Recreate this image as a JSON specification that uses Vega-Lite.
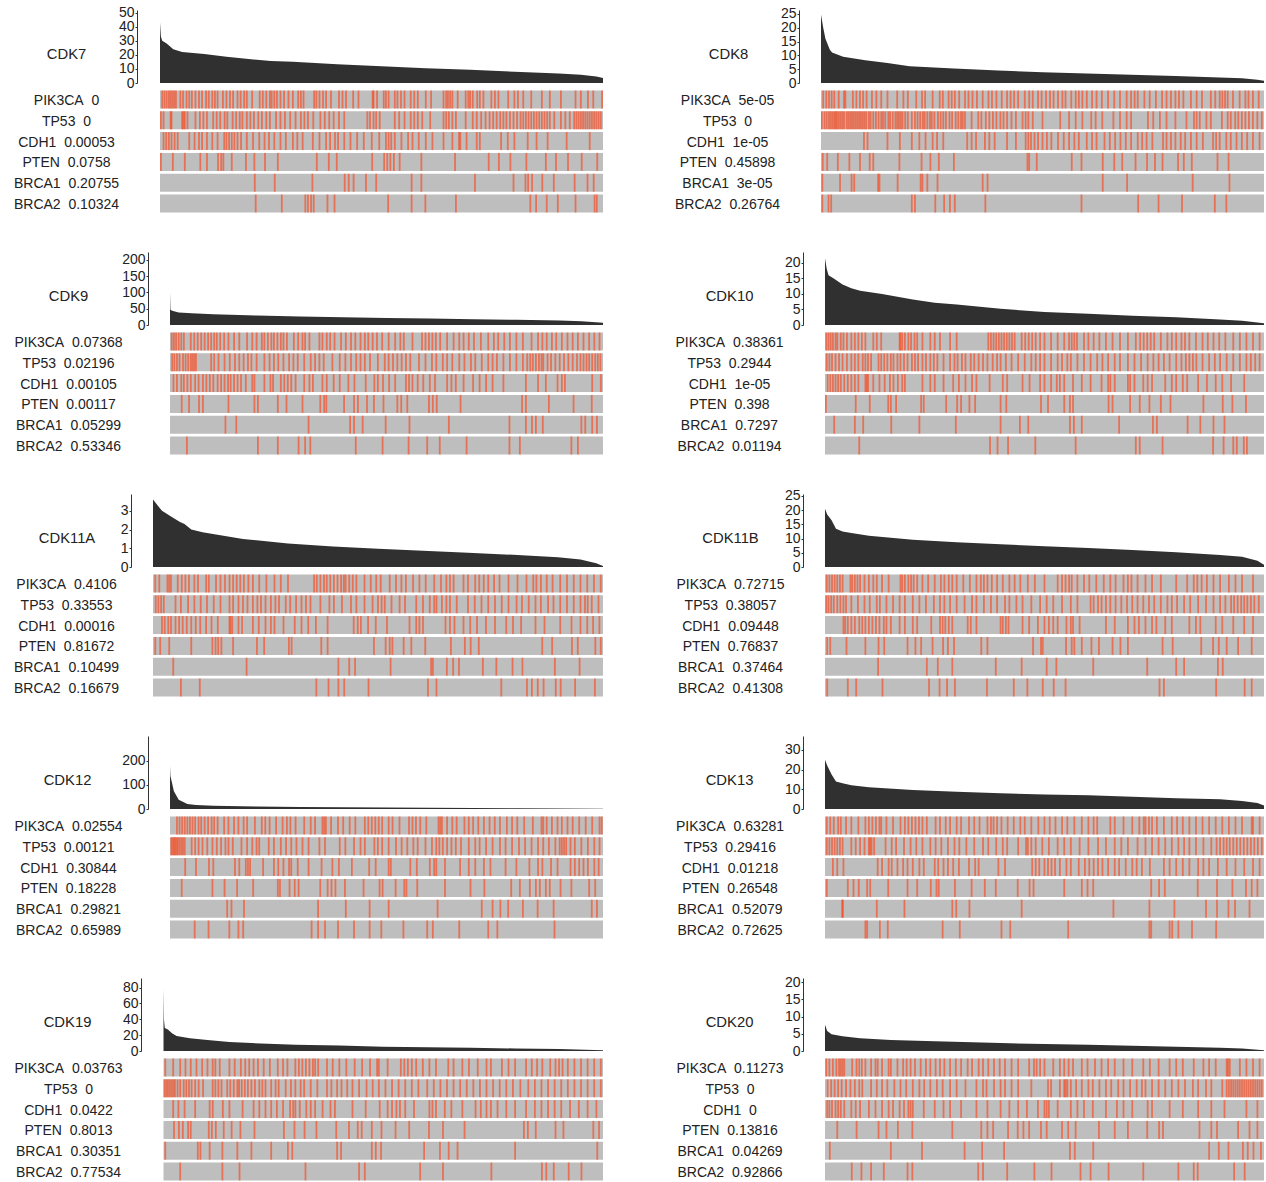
{"$schema":"https://vega.github.io/schema/vega-lite/v6.json","background":"white","padding":{"left":13,"top":4,"right":0,"bottom":0},"columns":2,"spacing":{"row":33,"column":70},
"config":{"font":"Liberation Sans","view":{"stroke":null},"area":{"color":"#303030"},"bar":{"color":"#bebebe"},"tick":{"color":"#ff4010","thickness":1.8,"bandSize":18,"opacity":0.6},"axis":{"labelColor":"#222","titleColor":"#222","domainColor":"#333","tickColor":"#333","grid":false,"labelOverlap":false,"labelFontSize":14,"titleFontSize":14.8,"titleFontWeight":"normal","labelFont":"Liberation Sans","titleFont":"Liberation Sans"},"axisX":{"orient":"top","labels":false,"ticks":false,"domain":false,"title":null,"minExtent":6,"maxExtent":6}},
"datasets":{
"a1":[{"x":0,"y":43},{"x":2,"y":33},{"x":5,"y":30},{"x":15,"y":28},{"x":30,"y":24},{"x":50,"y":22},{"x":100,"y":20.5},{"x":150,"y":18.7},{"x":200,"y":17},{"x":250,"y":15.7},{"x":300,"y":15},{"x":400,"y":13.3},{"x":500,"y":11.8},{"x":600,"y":10.5},{"x":700,"y":9.4},{"x":800,"y":8},{"x":900,"y":6.7},{"x":950,"y":5.8},{"x":985,"y":4.7},{"x":1000,"y":3.5}],
"a2":[{"x":0,"y":24.8},{"x":5,"y":20},{"x":10,"y":16},{"x":20,"y":12},{"x":25,"y":11},{"x":50,"y":9.5},{"x":100,"y":8.2},{"x":150,"y":7.2},{"x":200,"y":6.1},{"x":300,"y":5.2},{"x":400,"y":4.5},{"x":500,"y":3.9},{"x":600,"y":3.4},{"x":700,"y":3},{"x":800,"y":2.5},{"x":900,"y":2},{"x":950,"y":1.7},{"x":985,"y":1.2},{"x":1000,"y":0.8}],
"a3":[{"x":0,"y":100},{"x":1,"y":47},{"x":5,"y":44},{"x":20,"y":38},{"x":50,"y":36},{"x":100,"y":33},{"x":200,"y":29},{"x":300,"y":26},{"x":400,"y":23.5},{"x":500,"y":21.5},{"x":600,"y":20},{"x":700,"y":17.5},{"x":800,"y":16},{"x":900,"y":13.5},{"x":950,"y":11.5},{"x":1000,"y":7}],
"a4":[{"x":0,"y":21.5},{"x":4,"y":18},{"x":8,"y":16},{"x":20,"y":15},{"x":40,"y":13},{"x":60,"y":11.8},{"x":80,"y":11},{"x":130,"y":10},{"x":200,"y":8.2},{"x":250,"y":7.2},{"x":300,"y":6.6},{"x":400,"y":5.2},{"x":500,"y":4.2},{"x":600,"y":3.6},{"x":700,"y":3},{"x":800,"y":2.5},{"x":900,"y":1.8},{"x":950,"y":1.4},{"x":1000,"y":0.6}],
"a5":[{"x":0,"y":3.6},{"x":10,"y":3.3},{"x":20,"y":3},{"x":40,"y":2.7},{"x":60,"y":2.4},{"x":70,"y":2.3},{"x":85,"y":2},{"x":110,"y":1.85},{"x":150,"y":1.7},{"x":200,"y":1.5},{"x":300,"y":1.25},{"x":400,"y":1.1},{"x":500,"y":0.98},{"x":600,"y":0.87},{"x":700,"y":0.76},{"x":800,"y":0.65},{"x":900,"y":0.52},{"x":950,"y":0.4},{"x":985,"y":0.2},{"x":1000,"y":0.05}],
"a6":[{"x":0,"y":20.5},{"x":5,"y":18.5},{"x":15,"y":16.5},{"x":25,"y":13.5},{"x":40,"y":12.5},{"x":60,"y":12},{"x":100,"y":11},{"x":200,"y":9.6},{"x":300,"y":8.7},{"x":400,"y":8},{"x":500,"y":7.3},{"x":600,"y":6.7},{"x":700,"y":6},{"x":800,"y":5.2},{"x":900,"y":4.2},{"x":950,"y":3.6},{"x":985,"y":2.2},{"x":1000,"y":0.8}],
"a7":[{"x":0,"y":179},{"x":1,"y":137},{"x":9,"y":74},{"x":20,"y":39},{"x":40,"y":21},{"x":60,"y":17},{"x":100,"y":14},{"x":200,"y":10.5},{"x":300,"y":8},{"x":400,"y":7},{"x":500,"y":6},{"x":600,"y":5},{"x":700,"y":4},{"x":800,"y":3},{"x":900,"y":2.5},{"x":1000,"y":1}],
"a8":[{"x":0,"y":25},{"x":5,"y":22},{"x":15,"y":17.5},{"x":25,"y":14},{"x":40,"y":13},{"x":60,"y":12},{"x":100,"y":11},{"x":200,"y":9.6},{"x":300,"y":8.8},{"x":400,"y":8},{"x":500,"y":7.4},{"x":600,"y":7},{"x":700,"y":6.2},{"x":800,"y":5.5},{"x":900,"y":5},{"x":950,"y":4},{"x":985,"y":3},{"x":1000,"y":1.8}],
"a9":[{"x":0,"y":79},{"x":1,"y":40},{"x":3,"y":29},{"x":10,"y":27},{"x":20,"y":22},{"x":30,"y":19},{"x":60,"y":16},{"x":100,"y":14},{"x":150,"y":11.5},{"x":200,"y":10},{"x":300,"y":8},{"x":400,"y":7},{"x":500,"y":5.5},{"x":600,"y":4.8},{"x":700,"y":4},{"x":800,"y":3.2},{"x":900,"y":2.5},{"x":1000,"y":1}],
"a10":[{"x":0,"y":7.6},{"x":5,"y":5.8},{"x":15,"y":4.9},{"x":40,"y":4.3},{"x":80,"y":3.7},{"x":150,"y":3.2},{"x":250,"y":2.8},{"x":400,"y":2.3},{"x":500,"y":2},{"x":600,"y":1.8},{"x":700,"y":1.5},{"x":800,"y":1.25},{"x":900,"y":0.95},{"x":950,"y":0.7},{"x":1000,"y":0.2}],
"p1":[5,10,15,20,24,28,32,36,46,52,60,66,72,80,88,95,104,110,118,124,130,142,150,158,165,175,182,190,196,208,225,232,240,248,252,258,264,272,280,290,300,312,318,324,348,353,360,368,375,386,404,412,420,436,448,480,482,490,505,510,516,530,536,544,552,566,574,582,600,612,640,646,650,655,660,672,690,696,700,706,716,722,730,748,756,764,786,800,808,820,838,862,880,905,938,950,966,978,998],
"t1":[2,8,24,26,50,53,56,62,80,90,98,106,120,128,136,146,152,164,172,180,186,196,204,212,222,230,240,248,262,272,282,294,306,318,326,334,346,362,372,382,392,404,416,468,474,482,488,496,530,540,552,566,574,582,592,610,640,646,652,660,668,690,706,715,725,735,744,752,760,768,775,782,790,798,806,814,820,826,832,838,844,850,856,862,868,874,880,890,905,915,925,935,940,945,950,955,960,965,970,975,980,985,990,995],
"c1":[8,14,20,26,33,40,66,78,88,95,106,118,130,145,150,156,162,168,175,183,196,210,224,236,246,258,272,284,300,310,322,345,360,375,384,395,402,416,430,445,460,478,495,510,516,522,530,545,560,570,584,600,615,640,660,675,678,692,715,722,770,785,800,830,850,875,918,970],
"e1":[2,29,56,91,106,131,138,143,162,194,213,237,266,354,381,399,479,506,513,520,528,541,590,666,742,765,791,827,871,894,921,952,987],
"b1":[214,259,344,417,426,437,465,488,568,590,711,798,825,831,840,863,889,936,965,979],
"r1":[216,275,328,334,341,347,378,394,515,568,599,668,836,849,873,898,938,981,986],
"p2":[5,12,18,24,30,40,52,55,72,80,88,95,103,115,125,136,150,172,186,196,215,228,235,252,268,275,288,295,302,312,325,333,342,352,365,378,386,396,408,420,428,436,445,460,470,478,490,498,508,517,525,535,545,552,565,575,582,590,600,612,622,634,648,662,675,690,700,708,715,730,742,756,770,780,790,800,808,818,835,848,860,880,890,900,906,912,918,930,945,958,965,975,988],
"t2":[2,8,13,18,22,26,30,33,36,40,44,48,52,58,62,66,70,74,78,82,86,90,94,98,102,108,112,118,124,130,136,140,145,152,156,162,168,172,176,180,184,190,196,205,212,218,224,230,234,240,246,250,256,264,270,276,282,290,296,304,310,316,320,325,340,355,362,372,380,388,396,405,412,420,430,440,455,462,468,478,500,540,560,575,590,610,620,635,660,675,690,700,738,750,765,780,800,825,842,848,855,870,880,905,918,925,935,942,950,958,966,975,985,995],
"c2":[97,105,150,178,205,222,236,252,262,276,330,340,350,370,380,392,420,440,462,468,474,482,490,500,510,520,535,548,560,572,582,600,612,622,640,652,664,676,688,700,715,725,735,748,772,780,790,800,812,822,835,848,862,885,892,900,915,925,938,950,962,975,990],
"e2":[4,14,38,64,88,110,118,177,227,247,266,300,466,470,487,566,588,636,662,680,710,736,754,771,806,819,837,895,920],
"b2":[3,43,69,75,129,132,173,225,229,240,263,365,376,636,691,839,922],
"r2":[3,17,23,205,212,258,278,291,302,371,588,716,762,815,889,915],
"p3":[4,9,14,20,26,32,48,56,64,72,80,88,95,102,108,116,125,135,148,160,178,190,200,212,218,226,234,240,248,256,262,270,286,296,306,312,322,345,352,362,370,380,395,406,418,428,440,450,458,468,478,490,505,520,532,540,560,582,590,598,606,614,624,640,655,668,678,690,702,718,735,748,758,772,785,800,815,835,850,860,870,882,892,905,918,930,942,955,968,980,992],
"t3":[5,10,16,22,30,36,42,48,52,56,60,95,102,112,126,138,150,160,170,180,188,200,218,230,240,250,262,275,285,295,310,325,335,345,355,375,392,405,418,430,440,450,462,480,496,505,515,525,535,545,555,575,590,605,615,630,640,652,668,680,695,705,720,735,745,755,770,785,800,815,825,832,838,845,852,858,862,872,880,890,900,910,920,930,940,948,955,962,968,975,982,988,994],
"c3":[8,16,26,32,40,48,58,66,76,84,92,100,110,118,126,134,140,148,156,164,175,190,195,218,232,238,256,264,272,280,290,310,322,330,352,362,378,392,412,426,452,472,480,492,506,520,545,552,560,572,585,600,612,640,650,660,678,700,715,730,745,770,822,850,868,895,905,912,975,995],
"e3":[27,44,67,76,135,195,203,249,269,306,347,356,361,402,425,434,455,471,493,525,534,548,598,607,616,671,813,822,875,932,974],
"b3":[128,153,320,416,425,445,498,553,644,784,822,836,845,861,950,959,975,986],
"r3":[39,203,249,297,312,324,429,491,551,594,623,685,784,808,927,942],
"p4":[3,8,13,18,24,28,36,42,50,60,68,76,84,92,110,118,128,170,172,176,182,190,196,204,210,222,240,250,262,285,300,372,378,384,390,396,402,408,414,420,426,432,448,456,464,472,480,490,500,515,530,545,556,562,568,574,590,600,612,625,640,655,672,690,708,718,726,734,742,750,765,780,790,800,812,820,830,845,860,872,885,898,912,930,945,960,975,990],
"t4":[4,10,16,24,32,40,50,60,68,76,86,92,98,105,122,128,135,142,150,156,165,172,180,188,198,205,212,222,230,240,248,256,270,285,295,302,312,320,332,340,350,360,370,382,392,400,412,425,440,455,470,480,490,500,515,530,540,552,560,575,590,605,620,632,645,660,672,690,705,720,735,748,760,772,785,800,812,822,830,838,846,860,875,888,900,915,930,945,960,970,980,990],
"c4":[6,12,18,24,30,36,44,52,60,68,76,92,95,98,110,124,136,148,156,166,176,182,222,240,250,270,292,305,320,335,345,375,405,415,450,466,490,500,515,528,535,545,565,585,605,630,645,650,660,690,695,705,725,735,745,775,790,800,815,825,850,870,890,905,925,955],
"e4":[2,70,102,144,150,162,219,225,276,301,310,329,342,400,413,492,508,545,558,565,646,655,695,717,739,765,787,862,906,928,959],
"b4":[21,68,87,151,215,298,400,444,463,558,567,585,670,747,756,826,855,885,910],
"r4":[78,376,393,417,479,571,708,717,769,884,908,930,938,954,961],
"p5":[5,14,32,36,40,55,64,72,80,92,100,118,124,140,150,160,170,178,186,194,202,212,222,236,252,270,284,300,358,364,372,380,386,394,402,410,418,424,428,436,444,452,470,484,496,506,526,540,552,562,578,592,606,625,640,652,660,668,690,700,716,725,735,745,758,770,790,810,830,845,852,862,875,888,905,920,935,950,965,980,995],
"t5":[6,12,18,24,50,62,78,92,106,120,135,150,170,178,190,200,210,222,232,240,250,262,272,280,295,305,318,330,340,350,372,392,402,420,440,452,470,488,500,508,515,530,548,560,585,600,615,625,630,642,652,660,675,700,715,730,745,760,775,790,808,820,835,850,862,878,890,905,920,935,950,960,966,975,990],
"c5":[20,26,34,40,50,58,66,75,85,95,105,118,130,144,170,172,176,190,198,222,235,250,262,270,290,315,330,345,362,388,446,455,462,478,495,520,570,585,592,600,650,660,670,690,705,720,740,760,785,800,818,850,870,905,930,950,965,978,992],
"e5":[5,16,36,85,132,139,145,152,178,231,247,302,308,374,388,491,517,526,532,557,574,605,662,693,706,724,865,887,931,944,983,995],
"b5":[45,208,412,436,449,528,618,622,653,667,680,733,763,799,821,893,948],
"r5":[62,104,363,390,412,425,479,611,630,774,831,842,855,868,895,906,938,982],
"p6":[4,10,16,22,28,34,40,58,62,68,74,80,90,100,110,118,130,145,172,176,182,190,196,202,210,222,235,250,264,272,282,290,300,315,330,345,355,362,370,380,392,405,420,432,445,462,478,500,530,540,548,556,562,575,590,602,618,635,650,662,680,690,698,712,730,745,765,800,825,840,848,858,870,885,900,920,935,950,975],
"t6":[3,8,14,20,28,35,42,48,60,75,90,102,118,125,140,155,170,182,200,215,230,248,262,272,285,300,318,335,345,362,378,392,410,420,436,450,470,490,505,520,540,560,575,605,612,622,630,640,650,662,675,688,700,712,725,738,750,765,780,790,802,818,832,850,868,885,900,912,925,932,940,948,955,962,970,978,988],
"c6":[42,46,52,60,68,78,85,92,100,108,116,124,134,140,150,170,182,200,210,242,262,268,274,282,290,325,332,345,400,405,412,418,450,465,485,500,510,520,530,550,560,565,580,640,660,690,705,715,730,745,755,775,790,830,845,855,890,905,930,955,975],
"e6":[5,12,49,92,122,135,188,206,219,245,269,280,294,356,370,474,492,496,549,562,568,585,607,624,655,673,690,769,792,857,884,897,915,941,972],
"b6":[121,232,257,290,389,448,505,527,611,734,800,818,895,906],
"r6":[5,52,71,131,237,261,278,296,369,430,461,496,521,548,762,772,891,956,972],
"p7":[16,22,28,34,40,46,52,58,66,72,80,88,96,102,110,125,135,148,158,170,178,196,212,220,230,245,260,270,278,290,310,325,335,352,356,360,372,388,400,415,428,450,458,466,474,482,490,505,514,530,552,560,568,578,592,620,624,628,640,652,662,680,690,700,712,725,738,750,762,778,790,802,818,838,858,862,870,882,895,905,918,930,945,960,975,992,997],
"t7":[3,6,9,12,15,18,22,26,30,34,50,58,66,75,86,98,108,118,128,135,145,165,178,190,200,206,228,240,256,268,280,292,306,320,345,358,392,405,425,440,450,472,480,490,505,522,535,548,562,572,590,605,615,622,630,640,650,660,672,690,705,715,730,745,762,775,790,806,820,835,850,862,875,890,900,905,910,915,925,935,950,965,980,992],
"c7":[35,60,90,100,150,160,175,180,185,215,240,250,262,275,280,295,320,350,375,390,420,460,475,505,510,555,570,600,610,615,635,670,690,705,725,740,775,800,830,850,860,880,895,925,935,945,955,965,980,990],
"e7":[27,98,126,155,192,249,254,276,288,297,347,364,373,382,404,447,484,491,521,541,546,571,635,694,726,788,808,831,845,854,868,877,902,927,968,982],
"b7":[132,142,171,342,406,461,505,618,720,745,763,781,815,849,886,974,986],
"r7":[57,89,137,158,169,327,342,358,388,425,461,488,539,594,607,668,735,756,888],
"p8":[4,12,20,30,36,48,60,76,92,100,108,116,124,128,140,155,172,182,190,198,206,214,222,232,252,262,275,285,300,310,328,340,352,370,378,384,392,402,416,430,445,455,470,486,500,512,525,540,552,568,585,600,612,620,650,660,680,700,716,726,730,738,745,756,772,790,802,815,830,845,860,875,890,905,920,935,950,972,975,990],
"t8":[4,10,16,22,28,34,40,60,70,80,90,100,103,106,112,138,152,162,180,195,208,222,240,252,265,280,295,306,322,340,360,372,390,405,415,440,458,462,470,480,495,510,530,545,560,580,600,622,640,660,675,690,712,730,745,760,775,790,805,818,830,845,862,880,892,900,908,915,922,930,938,946,954,962,970,978,986,995],
"c8":[18,28,42,120,130,145,152,165,178,188,200,215,225,250,258,270,280,292,305,328,342,350,395,410,472,480,488,500,508,516,524,535,550,560,578,592,602,612,622,632,645,660,670,685,700,710,722,740,772,785,800,815,830,850,862,875,895,915,935,955,975,990],
"e8":[4,52,65,77,96,103,144,188,210,241,254,259,296,334,364,389,439,466,475,545,585,598,611,743,761,774,849,893,928,959,972,985],
"b8":[39,41,118,181,290,299,329,448,657,739,796,868,893,919,934,967],
"r8":[92,96,125,143,268,307,402,422,554,739,743,785,791,805,836,891],
"p9":[4,22,38,50,62,75,88,100,112,118,128,150,162,176,186,195,205,215,228,242,260,272,282,300,308,316,324,332,340,345,352,372,385,400,416,435,452,470,486,490,510,540,548,556,565,575,590,605,620,648,660,680,695,715,735,745,770,785,800,825,838,850,862,880,892,900,908,920,935,950,965,980,995],
"t9":[2,6,10,14,18,22,26,32,38,46,52,58,64,72,80,90,112,118,125,132,145,152,160,168,172,178,185,192,200,208,218,225,232,245,255,262,278,290,300,312,320,335,350,372,382,395,405,418,430,445,462,476,490,505,520,535,550,565,580,600,615,630,645,660,675,690,705,720,735,750,765,780,795,812,830,845,860,875,890,905,920,935,950,965,980,995],
"c9":[22,34,48,72,105,112,135,150,180,205,218,232,245,258,272,288,295,300,310,325,335,345,362,380,390,430,460,492,510,520,530,538,550,570,605,612,620,640,655,680,710,722,735,745,760,780,800,825,845,860,875,890,905,925,945,965,985],
"e9":[24,35,44,56,62,103,110,119,137,155,175,207,274,298,321,348,393,422,442,451,474,496,528,559,604,636,685,820,829,847,892,910,978,991],
"b9":[4,78,84,105,134,168,200,245,283,293,395,404,474,483,495,593,629,649,669,800,987],
"r9":[38,134,173,323,445,458,584,636,746,861,871,888,922,951],
"p10":[3,10,18,26,32,36,40,44,62,72,78,84,92,105,115,120,130,145,150,165,178,186,195,205,218,230,240,252,262,272,285,298,310,325,335,350,360,372,385,398,410,425,440,465,476,482,490,500,520,535,545,555,565,585,598,615,630,645,660,680,700,725,740,760,785,800,815,840,862,875,890,915,918,922,945,960,975,990],
"t10":[6,14,22,30,38,48,58,68,78,85,105,118,130,142,158,172,185,200,215,226,240,255,268,285,300,320,345,360,368,385,400,410,425,440,470,508,515,535,545,548,552,560,572,585,600,610,625,640,652,668,680,695,710,722,730,745,760,775,790,805,820,838,850,868,880,905,915,920,925,930,935,940,945,950,955,960,965,970,975,980,985,990,995],
"c10":[5,10,16,24,30,36,44,60,70,80,100,115,130,145,155,170,180,190,195,200,225,250,270,285,310,345,370,400,420,440,460,485,500,505,510,530,560,575,590,610,640,665,680,700,735,745,785,815,850,880,910,960,985],
"e10":[28,72,122,140,166,199,290,356,370,383,417,439,452,465,492,505,540,554,571,624,660,690,734,761,770,853,880,893,941,967,985],
"b10":[11,150,221,318,358,408,558,569,611,875,897,919,952,963,976,993],
"r10":[61,83,105,134,188,199,349,360,415,477,516,582,605,646,725,805,840,849,932,956]
},
"concat":[
{"vconcat":[{"width":450,"height":73,"data":{"name":"a1"},"mark":"area","encoding":{"x":{"field":"x","type":"quantitative","scale":{"domain":[-15.8,1000],"nice":false,"zero":false}},"y":{"field":"y","type":"quantitative","scale":{"domain":[0,51.8],"nice":false},"axis":{"values":[0,10,20,30,40,50],"offset":16,"tickSize":2,"labelPadding":1,"title":"CDK7","titleAngle":0,"titleAlign":"center","titleBaseline":"middle","titleX":-71,"titleY":44}}}},
{"width":450,"height":122,"encoding":{"x":{"field":"data","type":"quantitative","axis":null,"scale":{"domain":[-15.8,1000],"nice":false,"zero":false}}},"layer":[
{"data":{"values":[{"g":"PIK3CA\u00a0\u00a00","a":0,"b":1000},{"g":"TP53\u00a0\u00a00","a":0,"b":1000},{"g":"CDH1\u00a0\u00a00.00053","a":0,"b":1000},{"g":"PTEN\u00a0\u00a00.0758","a":0,"b":1000},{"g":"BRCA1\u00a0\u00a00.20755","a":0,"b":1000},{"g":"BRCA2\u00a0\u00a00.10324","a":0,"b":1000}]},"mark":"bar","encoding":{"x":{"field":"a","type":"quantitative"},"x2":{"field":"b"},"y":{"field":"g","type":"nominal","scale":{"domain":["PIK3CA\u00a0\u00a00","TP53\u00a0\u00a00","CDH1\u00a0\u00a00.00053","PTEN\u00a0\u00a00.0758","BRCA1\u00a0\u00a00.20755","BRCA2\u00a0\u00a00.10324"],"paddingInner":0.135,"paddingOuter":0},"axis":{"title":null,"ticks":false,"domain":false,"labelAlign":"center","labelPadding":87,"labelOffset":1.5}}}},
{"data":{"name":"p1"},"mark":"tick","encoding":{"y":{"datum":"PIK3CA\u00a0\u00a00","type":"nominal"}}},
{"data":{"name":"t1"},"mark":"tick","encoding":{"y":{"datum":"TP53\u00a0\u00a00","type":"nominal"}}},
{"data":{"name":"c1"},"mark":"tick","encoding":{"y":{"datum":"CDH1\u00a0\u00a00.00053","type":"nominal"}}},
{"data":{"name":"e1"},"mark":"tick","encoding":{"y":{"datum":"PTEN\u00a0\u00a00.0758","type":"nominal"}}},
{"data":{"name":"b1"},"mark":"tick","encoding":{"y":{"datum":"BRCA1\u00a0\u00a00.20755","type":"nominal"}}},
{"data":{"name":"r1"},"mark":"tick","encoding":{"y":{"datum":"BRCA2\u00a0\u00a00.10324","type":"nominal"}}}]}],"spacing":7.5,"bounds":"flush"},
{"vconcat":[{"width":443,"height":73,"data":{"name":"a2"},"mark":"area","encoding":{"x":{"field":"x","type":"quantitative","scale":{"domain":[0,1000],"nice":false,"zero":false}},"y":{"field":"y","type":"quantitative","scale":{"domain":[0,26.4],"nice":false},"axis":{"values":[0,5,10,15,20,25],"offset":22,"tickSize":2,"labelPadding":1,"title":"CDK8","titleAngle":0,"titleAlign":"center","titleBaseline":"middle","titleX":-71,"titleY":44}}}},
{"width":443,"height":122,"encoding":{"x":{"field":"data","type":"quantitative","axis":null,"scale":{"domain":[0,1000],"nice":false,"zero":false}}},"layer":[
{"data":{"values":[{"g":"PIK3CA\u00a0\u00a05e-05","a":0,"b":1000},{"g":"TP53\u00a0\u00a00","a":0,"b":1000},{"g":"CDH1\u00a0\u00a01e-05","a":0,"b":1000},{"g":"PTEN\u00a0\u00a00.45898","a":0,"b":1000},{"g":"BRCA1\u00a0\u00a03e-05","a":0,"b":1000},{"g":"BRCA2\u00a0\u00a00.26764","a":0,"b":1000}]},"mark":"bar","encoding":{"x":{"field":"a","type":"quantitative"},"x2":{"field":"b"},"y":{"field":"g","type":"nominal","scale":{"domain":["PIK3CA\u00a0\u00a05e-05","TP53\u00a0\u00a00","CDH1\u00a0\u00a01e-05","PTEN\u00a0\u00a00.45898","BRCA1\u00a0\u00a03e-05","BRCA2\u00a0\u00a00.26764"],"paddingInner":0.135,"paddingOuter":0},"axis":{"title":null,"ticks":false,"domain":false,"labelAlign":"center","labelPadding":94,"labelOffset":1.5}}}},
{"data":{"name":"p2"},"mark":"tick","encoding":{"y":{"datum":"PIK3CA\u00a0\u00a05e-05","type":"nominal"}}},
{"data":{"name":"t2"},"mark":"tick","encoding":{"y":{"datum":"TP53\u00a0\u00a00","type":"nominal"}}},
{"data":{"name":"c2"},"mark":"tick","encoding":{"y":{"datum":"CDH1\u00a0\u00a01e-05","type":"nominal"}}},
{"data":{"name":"e2"},"mark":"tick","encoding":{"y":{"datum":"PTEN\u00a0\u00a00.45898","type":"nominal"}}},
{"data":{"name":"b2"},"mark":"tick","encoding":{"y":{"datum":"BRCA1\u00a0\u00a03e-05","type":"nominal"}}},
{"data":{"name":"r2"},"mark":"tick","encoding":{"y":{"datum":"BRCA2\u00a0\u00a00.26764","type":"nominal"}}}]}],"spacing":7.5,"bounds":"flush"},
{"vconcat":[{"width":450,"height":73,"data":{"name":"a3"},"mark":"area","encoding":{"x":{"field":"x","type":"quantitative","scale":{"domain":[-39.3,1000],"nice":false,"zero":false}},"y":{"field":"y","type":"quantitative","scale":{"domain":[0,224],"nice":false},"axis":{"values":[0,50,100,150,200],"offset":5,"tickSize":2,"labelPadding":1,"title":"CDK9","titleAngle":0,"titleAlign":"center","titleBaseline":"middle","titleX":-80,"titleY":44}}}},
{"width":450,"height":122,"encoding":{"x":{"field":"data","type":"quantitative","axis":null,"scale":{"domain":[-39.3,1000],"nice":false,"zero":false}}},"layer":[
{"data":{"values":[{"g":"PIK3CA\u00a0\u00a00.07368","a":0,"b":1000},{"g":"TP53\u00a0\u00a00.02196","a":0,"b":1000},{"g":"CDH1\u00a0\u00a00.00105","a":0,"b":1000},{"g":"PTEN\u00a0\u00a00.00117","a":0,"b":1000},{"g":"BRCA1\u00a0\u00a00.05299","a":0,"b":1000},{"g":"BRCA2\u00a0\u00a00.53346","a":0,"b":1000}]},"mark":"bar","encoding":{"x":{"field":"a","type":"quantitative"},"x2":{"field":"b"},"y":{"field":"g","type":"nominal","scale":{"domain":["PIK3CA\u00a0\u00a00.07368","TP53\u00a0\u00a00.02196","CDH1\u00a0\u00a00.00105","PTEN\u00a0\u00a00.00117","BRCA1\u00a0\u00a00.05299","BRCA2\u00a0\u00a00.53346"],"paddingInner":0.135,"paddingOuter":0},"axis":{"title":null,"ticks":false,"domain":false,"labelAlign":"center","labelPadding":85,"labelOffset":1.5}}}},
{"data":{"name":"p3"},"mark":"tick","encoding":{"y":{"datum":"PIK3CA\u00a0\u00a00.07368","type":"nominal"}}},
{"data":{"name":"t3"},"mark":"tick","encoding":{"y":{"datum":"TP53\u00a0\u00a00.02196","type":"nominal"}}},
{"data":{"name":"c3"},"mark":"tick","encoding":{"y":{"datum":"CDH1\u00a0\u00a00.00105","type":"nominal"}}},
{"data":{"name":"e3"},"mark":"tick","encoding":{"y":{"datum":"PTEN\u00a0\u00a00.00117","type":"nominal"}}},
{"data":{"name":"b3"},"mark":"tick","encoding":{"y":{"datum":"BRCA1\u00a0\u00a00.05299","type":"nominal"}}},
{"data":{"name":"r3"},"mark":"tick","encoding":{"y":{"datum":"BRCA2\u00a0\u00a00.53346","type":"nominal"}}}]}],"spacing":7.5,"bounds":"flush"},
{"vconcat":[{"width":443,"height":73,"data":{"name":"a4"},"mark":"area","encoding":{"x":{"field":"x","type":"quantitative","scale":{"domain":[-9.1,1000],"nice":false,"zero":false}},"y":{"field":"y","type":"quantitative","scale":{"domain":[0,23.5],"nice":false},"axis":{"values":[0,5,10,15,20],"offset":18,"tickSize":2,"labelPadding":1,"title":"CDK10","titleAngle":0,"titleAlign":"center","titleBaseline":"middle","titleX":-74,"titleY":44}}}},
{"width":443,"height":122,"encoding":{"x":{"field":"data","type":"quantitative","axis":null,"scale":{"domain":[-9.1,1000],"nice":false,"zero":false}}},"layer":[
{"data":{"values":[{"g":"PIK3CA\u00a0\u00a00.38361","a":0,"b":1000},{"g":"TP53\u00a0\u00a00.2944","a":0,"b":1000},{"g":"CDH1\u00a0\u00a01e-05","a":0,"b":1000},{"g":"PTEN\u00a0\u00a00.398","a":0,"b":1000},{"g":"BRCA1\u00a0\u00a00.7297","a":0,"b":1000},{"g":"BRCA2\u00a0\u00a00.01194","a":0,"b":1000}]},"mark":"bar","encoding":{"x":{"field":"a","type":"quantitative"},"x2":{"field":"b"},"y":{"field":"g","type":"nominal","scale":{"domain":["PIK3CA\u00a0\u00a00.38361","TP53\u00a0\u00a00.2944","CDH1\u00a0\u00a01e-05","PTEN\u00a0\u00a00.398","BRCA1\u00a0\u00a00.7297","BRCA2\u00a0\u00a00.01194"],"paddingInner":0.135,"paddingOuter":0},"axis":{"title":null,"ticks":false,"domain":false,"labelAlign":"center","labelPadding":92,"labelOffset":1.5}}}},
{"data":{"name":"p4"},"mark":"tick","encoding":{"y":{"datum":"PIK3CA\u00a0\u00a00.38361","type":"nominal"}}},
{"data":{"name":"t4"},"mark":"tick","encoding":{"y":{"datum":"TP53\u00a0\u00a00.2944","type":"nominal"}}},
{"data":{"name":"c4"},"mark":"tick","encoding":{"y":{"datum":"CDH1\u00a0\u00a01e-05","type":"nominal"}}},
{"data":{"name":"e4"},"mark":"tick","encoding":{"y":{"datum":"PTEN\u00a0\u00a00.398","type":"nominal"}}},
{"data":{"name":"b4"},"mark":"tick","encoding":{"y":{"datum":"BRCA1\u00a0\u00a00.7297","type":"nominal"}}},
{"data":{"name":"r4"},"mark":"tick","encoding":{"y":{"datum":"BRCA2\u00a0\u00a00.01194","type":"nominal"}}}]}],"spacing":7.5,"bounds":"flush"},
{"vconcat":[{"width":450,"height":73,"data":{"name":"a5"},"mark":"area","encoding":{"x":{"field":"x","type":"quantitative","scale":{"domain":[0,1000],"nice":false,"zero":false}},"y":{"field":"y","type":"quantitative","scale":{"domain":[0,3.9],"nice":false},"axis":{"values":[0,1,2,3],"offset":22,"tickSize":2,"labelPadding":1,"title":"CDK11A","titleAngle":0,"titleAlign":"center","titleBaseline":"middle","titleX":-64.5,"titleY":44}}}},
{"width":450,"height":122,"encoding":{"x":{"field":"data","type":"quantitative","axis":null,"scale":{"domain":[0,1000],"nice":false,"zero":false}}},"layer":[
{"data":{"values":[{"g":"PIK3CA\u00a0\u00a00.4106","a":0,"b":1000},{"g":"TP53\u00a0\u00a00.33553","a":0,"b":1000},{"g":"CDH1\u00a0\u00a00.00016","a":0,"b":1000},{"g":"PTEN\u00a0\u00a00.81672","a":0,"b":1000},{"g":"BRCA1\u00a0\u00a00.10499","a":0,"b":1000},{"g":"BRCA2\u00a0\u00a00.16679","a":0,"b":1000}]},"mark":"bar","encoding":{"x":{"field":"a","type":"quantitative"},"x2":{"field":"b"},"y":{"field":"g","type":"nominal","scale":{"domain":["PIK3CA\u00a0\u00a00.4106","TP53\u00a0\u00a00.33553","CDH1\u00a0\u00a00.00016","PTEN\u00a0\u00a00.81672","BRCA1\u00a0\u00a00.10499","BRCA2\u00a0\u00a00.16679"],"paddingInner":0.135,"paddingOuter":0},"axis":{"title":null,"ticks":false,"domain":false,"labelAlign":"center","labelPadding":87,"labelOffset":1.5}}}},
{"data":{"name":"p5"},"mark":"tick","encoding":{"y":{"datum":"PIK3CA\u00a0\u00a00.4106","type":"nominal"}}},
{"data":{"name":"t5"},"mark":"tick","encoding":{"y":{"datum":"TP53\u00a0\u00a00.33553","type":"nominal"}}},
{"data":{"name":"c5"},"mark":"tick","encoding":{"y":{"datum":"CDH1\u00a0\u00a00.00016","type":"nominal"}}},
{"data":{"name":"e5"},"mark":"tick","encoding":{"y":{"datum":"PTEN\u00a0\u00a00.81672","type":"nominal"}}},
{"data":{"name":"b5"},"mark":"tick","encoding":{"y":{"datum":"BRCA1\u00a0\u00a00.10499","type":"nominal"}}},
{"data":{"name":"r5"},"mark":"tick","encoding":{"y":{"datum":"BRCA2\u00a0\u00a00.16679","type":"nominal"}}}]}],"spacing":7.5,"bounds":"flush"},
{"vconcat":[{"width":443,"height":73,"data":{"name":"a6"},"mark":"area","encoding":{"x":{"field":"x","type":"quantitative","scale":{"domain":[-9.1,1000],"nice":false,"zero":false}},"y":{"field":"y","type":"quantitative","scale":{"domain":[0,25.7],"nice":false},"axis":{"values":[0,5,10,15,20,25],"offset":18,"tickSize":2,"labelPadding":1,"title":"CDK11B","titleAngle":0,"titleAlign":"center","titleBaseline":"middle","titleX":-73,"titleY":44}}}},
{"width":443,"height":122,"encoding":{"x":{"field":"data","type":"quantitative","axis":null,"scale":{"domain":[-9.1,1000],"nice":false,"zero":false}}},"layer":[
{"data":{"values":[{"g":"PIK3CA\u00a0\u00a00.72715","a":0,"b":1000},{"g":"TP53\u00a0\u00a00.38057","a":0,"b":1000},{"g":"CDH1\u00a0\u00a00.09448","a":0,"b":1000},{"g":"PTEN\u00a0\u00a00.76837","a":0,"b":1000},{"g":"BRCA1\u00a0\u00a00.37464","a":0,"b":1000},{"g":"BRCA2\u00a0\u00a00.41308","a":0,"b":1000}]},"mark":"bar","encoding":{"x":{"field":"a","type":"quantitative"},"x2":{"field":"b"},"y":{"field":"g","type":"nominal","scale":{"domain":["PIK3CA\u00a0\u00a00.72715","TP53\u00a0\u00a00.38057","CDH1\u00a0\u00a00.09448","PTEN\u00a0\u00a00.76837","BRCA1\u00a0\u00a00.37464","BRCA2\u00a0\u00a00.41308"],"paddingInner":0.135,"paddingOuter":0},"axis":{"title":null,"ticks":false,"domain":false,"labelAlign":"center","labelPadding":91,"labelOffset":1.5}}}},
{"data":{"name":"p6"},"mark":"tick","encoding":{"y":{"datum":"PIK3CA\u00a0\u00a00.72715","type":"nominal"}}},
{"data":{"name":"t6"},"mark":"tick","encoding":{"y":{"datum":"TP53\u00a0\u00a00.38057","type":"nominal"}}},
{"data":{"name":"c6"},"mark":"tick","encoding":{"y":{"datum":"CDH1\u00a0\u00a00.09448","type":"nominal"}}},
{"data":{"name":"e6"},"mark":"tick","encoding":{"y":{"datum":"PTEN\u00a0\u00a00.76837","type":"nominal"}}},
{"data":{"name":"b6"},"mark":"tick","encoding":{"y":{"datum":"BRCA1\u00a0\u00a00.37464","type":"nominal"}}},
{"data":{"name":"r6"},"mark":"tick","encoding":{"y":{"datum":"BRCA2\u00a0\u00a00.41308","type":"nominal"}}}]}],"spacing":7.5,"bounds":"flush"},
{"vconcat":[{"width":450,"height":73,"data":{"name":"a7"},"mark":"area","encoding":{"x":{"field":"x","type":"quantitative","scale":{"domain":[-39.3,1000],"nice":false,"zero":false}},"y":{"field":"y","type":"quantitative","scale":{"domain":[0,304],"nice":false},"axis":{"values":[0,100,200],"offset":5,"tickSize":2,"labelPadding":1,"title":"CDK12","titleAngle":0,"titleAlign":"center","titleBaseline":"middle","titleX":-81,"titleY":44}}}},
{"width":450,"height":122,"encoding":{"x":{"field":"data","type":"quantitative","axis":null,"scale":{"domain":[-39.3,1000],"nice":false,"zero":false}}},"layer":[
{"data":{"values":[{"g":"PIK3CA\u00a0\u00a00.02554","a":0,"b":1000},{"g":"TP53\u00a0\u00a00.00121","a":0,"b":1000},{"g":"CDH1\u00a0\u00a00.30844","a":0,"b":1000},{"g":"PTEN\u00a0\u00a00.18228","a":0,"b":1000},{"g":"BRCA1\u00a0\u00a00.29821","a":0,"b":1000},{"g":"BRCA2\u00a0\u00a00.65989","a":0,"b":1000}]},"mark":"bar","encoding":{"x":{"field":"a","type":"quantitative"},"x2":{"field":"b"},"y":{"field":"g","type":"nominal","scale":{"domain":["PIK3CA\u00a0\u00a00.02554","TP53\u00a0\u00a00.00121","CDH1\u00a0\u00a00.30844","PTEN\u00a0\u00a00.18228","BRCA1\u00a0\u00a00.29821","BRCA2\u00a0\u00a00.65989"],"paddingInner":0.135,"paddingOuter":0},"axis":{"title":null,"ticks":false,"domain":false,"labelAlign":"center","labelPadding":85,"labelOffset":1.5}}}},
{"data":{"name":"p7"},"mark":"tick","encoding":{"y":{"datum":"PIK3CA\u00a0\u00a00.02554","type":"nominal"}}},
{"data":{"name":"t7"},"mark":"tick","encoding":{"y":{"datum":"TP53\u00a0\u00a00.00121","type":"nominal"}}},
{"data":{"name":"c7"},"mark":"tick","encoding":{"y":{"datum":"CDH1\u00a0\u00a00.30844","type":"nominal"}}},
{"data":{"name":"e7"},"mark":"tick","encoding":{"y":{"datum":"PTEN\u00a0\u00a00.18228","type":"nominal"}}},
{"data":{"name":"b7"},"mark":"tick","encoding":{"y":{"datum":"BRCA1\u00a0\u00a00.29821","type":"nominal"}}},
{"data":{"name":"r7"},"mark":"tick","encoding":{"y":{"datum":"BRCA2\u00a0\u00a00.65989","type":"nominal"}}}]}],"spacing":7.5,"bounds":"flush"},
{"vconcat":[{"width":443,"height":73,"data":{"name":"a8"},"mark":"area","encoding":{"x":{"field":"x","type":"quantitative","scale":{"domain":[-9.1,1000],"nice":false,"zero":false}},"y":{"field":"y","type":"quantitative","scale":{"domain":[0,37],"nice":false},"axis":{"values":[0,10,20,30],"offset":18,"tickSize":2,"labelPadding":1,"title":"CDK13","titleAngle":0,"titleAlign":"center","titleBaseline":"middle","titleX":-74,"titleY":44}}}},
{"width":443,"height":122,"encoding":{"x":{"field":"data","type":"quantitative","axis":null,"scale":{"domain":[-9.1,1000],"nice":false,"zero":false}}},"layer":[
{"data":{"values":[{"g":"PIK3CA\u00a0\u00a00.63281","a":0,"b":1000},{"g":"TP53\u00a0\u00a00.29416","a":0,"b":1000},{"g":"CDH1\u00a0\u00a00.01218","a":0,"b":1000},{"g":"PTEN\u00a0\u00a00.26548","a":0,"b":1000},{"g":"BRCA1\u00a0\u00a00.52079","a":0,"b":1000},{"g":"BRCA2\u00a0\u00a00.72625","a":0,"b":1000}]},"mark":"bar","encoding":{"x":{"field":"a","type":"quantitative"},"x2":{"field":"b"},"y":{"field":"g","type":"nominal","scale":{"domain":["PIK3CA\u00a0\u00a00.63281","TP53\u00a0\u00a00.29416","CDH1\u00a0\u00a00.01218","PTEN\u00a0\u00a00.26548","BRCA1\u00a0\u00a00.52079","BRCA2\u00a0\u00a00.72625"],"paddingInner":0.135,"paddingOuter":0},"axis":{"title":null,"ticks":false,"domain":false,"labelAlign":"center","labelPadding":91.5,"labelOffset":1.5}}}},
{"data":{"name":"p8"},"mark":"tick","encoding":{"y":{"datum":"PIK3CA\u00a0\u00a00.63281","type":"nominal"}}},
{"data":{"name":"t8"},"mark":"tick","encoding":{"y":{"datum":"TP53\u00a0\u00a00.29416","type":"nominal"}}},
{"data":{"name":"c8"},"mark":"tick","encoding":{"y":{"datum":"CDH1\u00a0\u00a00.01218","type":"nominal"}}},
{"data":{"name":"e8"},"mark":"tick","encoding":{"y":{"datum":"PTEN\u00a0\u00a00.26548","type":"nominal"}}},
{"data":{"name":"b8"},"mark":"tick","encoding":{"y":{"datum":"BRCA1\u00a0\u00a00.52079","type":"nominal"}}},
{"data":{"name":"r8"},"mark":"tick","encoding":{"y":{"datum":"BRCA2\u00a0\u00a00.72625","type":"nominal"}}}]}],"spacing":7.5,"bounds":"flush"},
{"vconcat":[{"width":450,"height":73,"data":{"name":"a9"},"mark":"area","encoding":{"x":{"field":"x","type":"quantitative","scale":{"domain":[-23.9,1000],"nice":false,"zero":false}},"y":{"field":"y","type":"quantitative","scale":{"domain":[0,92],"nice":false},"axis":{"values":[0,20,40,60,80],"offset":12,"tickSize":2,"labelPadding":1,"title":"CDK19","titleAngle":0,"titleAlign":"center","titleBaseline":"middle","titleX":-74,"titleY":44}}}},
{"width":450,"height":122,"encoding":{"x":{"field":"data","type":"quantitative","axis":null,"scale":{"domain":[-23.9,1000],"nice":false,"zero":false}}},"layer":[
{"data":{"values":[{"g":"PIK3CA\u00a0\u00a00.03763","a":0,"b":1000},{"g":"TP53\u00a0\u00a00","a":0,"b":1000},{"g":"CDH1\u00a0\u00a00.0422","a":0,"b":1000},{"g":"PTEN\u00a0\u00a00.8013","a":0,"b":1000},{"g":"BRCA1\u00a0\u00a00.30351","a":0,"b":1000},{"g":"BRCA2\u00a0\u00a00.77534","a":0,"b":1000}]},"mark":"bar","encoding":{"x":{"field":"a","type":"quantitative"},"x2":{"field":"b"},"y":{"field":"g","type":"nominal","scale":{"domain":["PIK3CA\u00a0\u00a00.03763","TP53\u00a0\u00a00","CDH1\u00a0\u00a00.0422","PTEN\u00a0\u00a00.8013","BRCA1\u00a0\u00a00.30351","BRCA2\u00a0\u00a00.77534"],"paddingInner":0.135,"paddingOuter":0},"axis":{"title":null,"ticks":false,"domain":false,"labelAlign":"center","labelPadding":85,"labelOffset":1.5}}}},
{"data":{"name":"p9"},"mark":"tick","encoding":{"y":{"datum":"PIK3CA\u00a0\u00a00.03763","type":"nominal"}}},
{"data":{"name":"t9"},"mark":"tick","encoding":{"y":{"datum":"TP53\u00a0\u00a00","type":"nominal"}}},
{"data":{"name":"c9"},"mark":"tick","encoding":{"y":{"datum":"CDH1\u00a0\u00a00.0422","type":"nominal"}}},
{"data":{"name":"e9"},"mark":"tick","encoding":{"y":{"datum":"PTEN\u00a0\u00a00.8013","type":"nominal"}}},
{"data":{"name":"b9"},"mark":"tick","encoding":{"y":{"datum":"BRCA1\u00a0\u00a00.30351","type":"nominal"}}},
{"data":{"name":"r9"},"mark":"tick","encoding":{"y":{"datum":"BRCA2\u00a0\u00a00.77534","type":"nominal"}}}]}],"spacing":7.5,"bounds":"flush"},
{"vconcat":[{"width":443,"height":73,"data":{"name":"a10"},"mark":"area","encoding":{"x":{"field":"x","type":"quantitative","scale":{"domain":[-9.1,1000],"nice":false,"zero":false}},"y":{"field":"y","type":"quantitative","scale":{"domain":[0,21.2],"nice":false},"axis":{"values":[0,5,10,15,20],"offset":18,"tickSize":2,"labelPadding":1,"title":"CDK20","titleAngle":0,"titleAlign":"center","titleBaseline":"middle","titleX":-74,"titleY":44}}}},
{"width":443,"height":122,"encoding":{"x":{"field":"data","type":"quantitative","axis":null,"scale":{"domain":[-9.1,1000],"nice":false,"zero":false}}},"layer":[
{"data":{"values":[{"g":"PIK3CA\u00a0\u00a00.11273","a":0,"b":1000},{"g":"TP53\u00a0\u00a00","a":0,"b":1000},{"g":"CDH1\u00a0\u00a00","a":0,"b":1000},{"g":"PTEN\u00a0\u00a00.13816","a":0,"b":1000},{"g":"BRCA1\u00a0\u00a00.04269","a":0,"b":1000},{"g":"BRCA2\u00a0\u00a00.92866","a":0,"b":1000}]},"mark":"bar","encoding":{"x":{"field":"a","type":"quantitative"},"x2":{"field":"b"},"y":{"field":"g","type":"nominal","scale":{"domain":["PIK3CA\u00a0\u00a00.11273","TP53\u00a0\u00a00","CDH1\u00a0\u00a00","PTEN\u00a0\u00a00.13816","BRCA1\u00a0\u00a00.04269","BRCA2\u00a0\u00a00.92866"],"paddingInner":0.135,"paddingOuter":0},"axis":{"title":null,"ticks":false,"domain":false,"labelAlign":"center","labelPadding":91.5,"labelOffset":1.5}}}},
{"data":{"name":"p10"},"mark":"tick","encoding":{"y":{"datum":"PIK3CA\u00a0\u00a00.11273","type":"nominal"}}},
{"data":{"name":"t10"},"mark":"tick","encoding":{"y":{"datum":"TP53\u00a0\u00a00","type":"nominal"}}},
{"data":{"name":"c10"},"mark":"tick","encoding":{"y":{"datum":"CDH1\u00a0\u00a00","type":"nominal"}}},
{"data":{"name":"e10"},"mark":"tick","encoding":{"y":{"datum":"PTEN\u00a0\u00a00.13816","type":"nominal"}}},
{"data":{"name":"b10"},"mark":"tick","encoding":{"y":{"datum":"BRCA1\u00a0\u00a00.04269","type":"nominal"}}},
{"data":{"name":"r10"},"mark":"tick","encoding":{"y":{"datum":"BRCA2\u00a0\u00a00.92866","type":"nominal"}}}]}],"spacing":7.5,"bounds":"flush"}
]}
